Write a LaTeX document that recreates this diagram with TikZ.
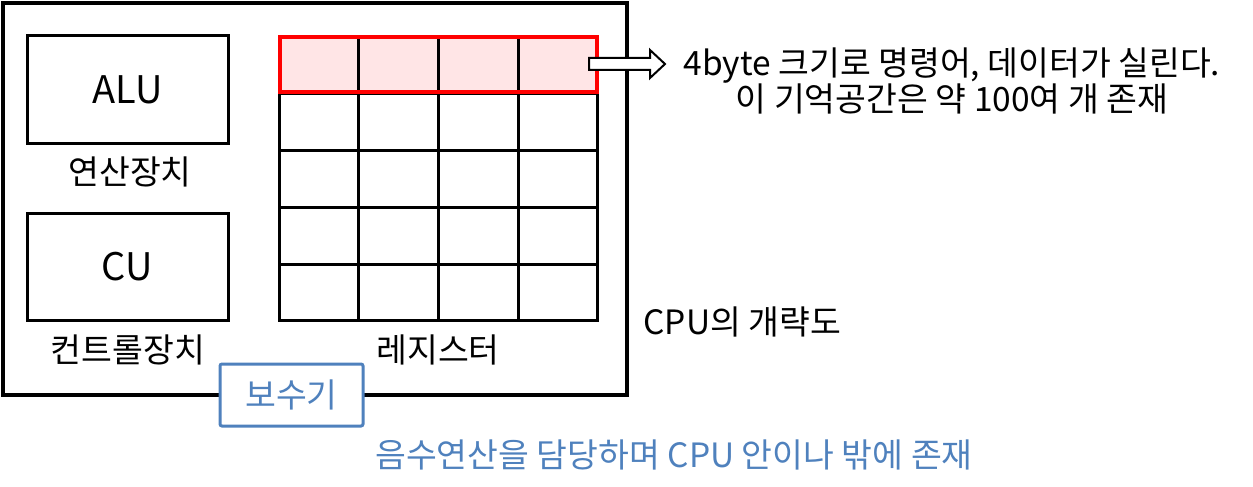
\documentclass[tikz,border=0pt]{standalone}
\usepackage{fontspec}
\setmainfont{Noto Sans CJK KR}
\usetikzlibrary{matrix,positioning}

\definecolor{regpink}{RGB}{255,229,230}
\definecolor{subblue}{RGB}{79,129,189}

\tikzset{
unit/.style={draw, line width=3pt, minimum width=201pt, minimum height=107pt, font=\fontsize{38}{42}\selectfont},
caption/.style={font=\fontsize{33.5}{35}\selectfont}
}

\begin{document}
\begin{tikzpicture}[x=1pt,y=-1pt]
\useasboundingbox (0,0) rectangle (1253,487);

% CPU outline
\draw[line width=4pt] (3,3) rectangle (627,395);

\node (alu) [unit] at (127.5,89.5) {ALU};
\node (alu-label) [caption] at (130,172) {연산장치};

\node (cu) [unit] at (127.5,266.5) {CU};
\node (cu-label) [caption] at (128,350) {컨트롤장치};

\matrix (reg) [matrix of nodes, nodes in empty cells,
column sep=0pt, row sep=0pt, inner sep=0pt, anchor=north west,
nodes={draw, line width=1.5pt, inner sep=0pt, outer sep=0pt, minimum width=78.25pt, minimum height=55.5pt},
row 1/.style={nodes={fill=regpink}}] at (279,36) {
&&&\\
&&&\\
&&&\\
&&&\\
&&&\\
};

\draw[line width=3pt] (reg-1-1.north west) rectangle (reg-5-4.south east);
\draw[red, line width=4pt] (reg-1-1.north west) rectangle (reg-1-4.south east);
\node (reg-label) [caption] at (438,350) {레지스터};

% block arrow
\draw[line width=2pt, fill=white] (589,58) -- (650,58) -- (650,50) -- (665,64) -- (650,78) -- (650,70) -- (589,70) -- cycle;
\node (info) [caption, align=center] at (952,81) {4byte 크기로 명령어, 데이터가 실린다.\\이 기억공간은 약 100여 개 존재};

\node (cpu-label) [caption, anchor=west] at (640,322) {CPU의 개략도};

\node (comp) [caption, draw=subblue, line width=3pt, fill=white, text=subblue, rounded corners=2pt,
minimum width=143pt, minimum height=62pt] at (291.5,395) {보수기};
\node (comp-note) [caption, text=subblue] at (674,455) {음수연산을 담당하며 CPU 안이나 밖에 존재};

\end{tikzpicture}
\end{document}
